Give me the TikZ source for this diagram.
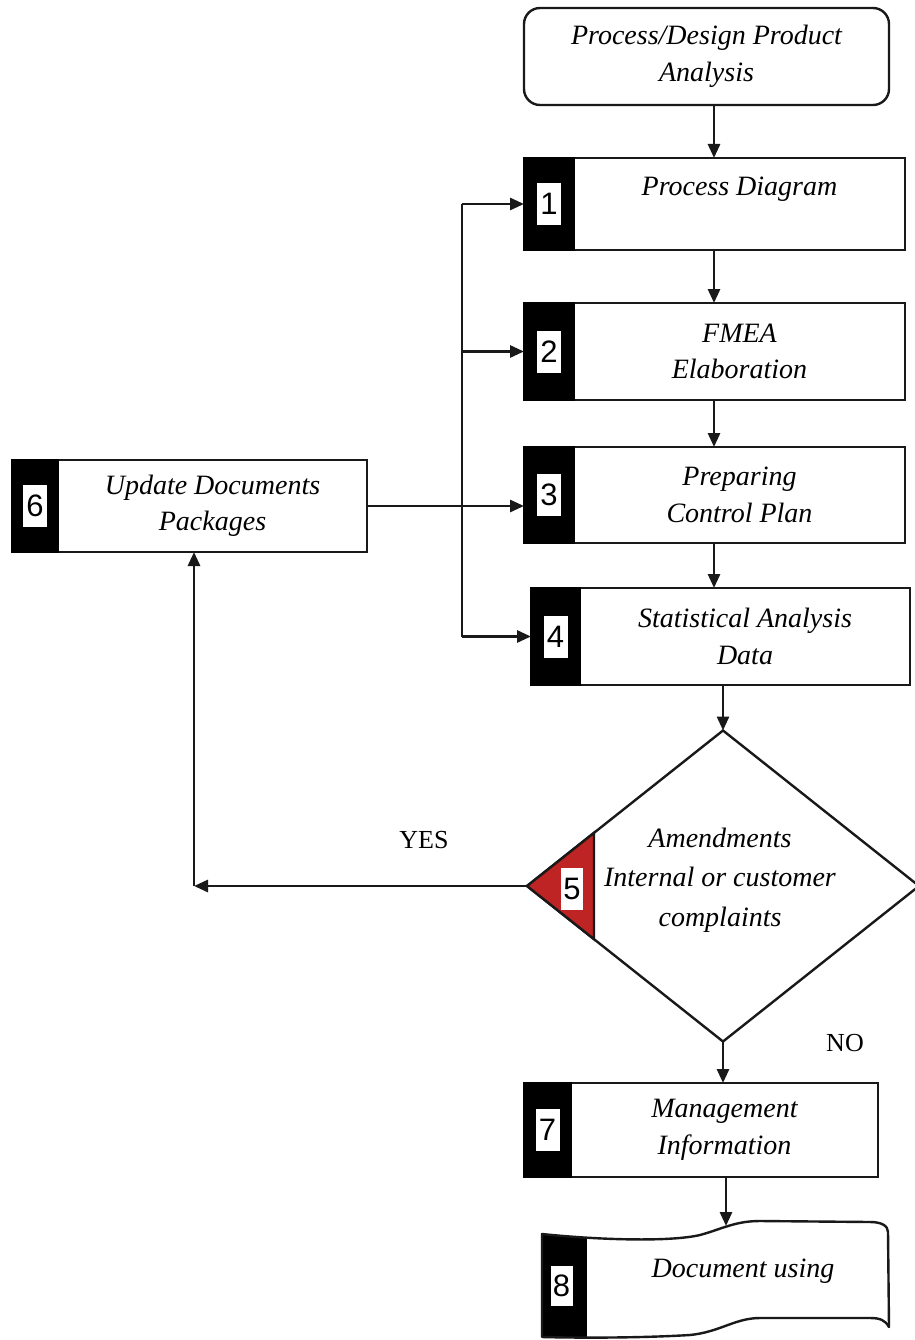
\documentclass[tikz,border=0pt]{standalone}
\usepackage{fontspec}
\setmainfont{Liberation Serif}
\newfontfamily\digitfont{Liberation Sans}
\usetikzlibrary{arrows.meta,shapes.geometric,calc}
\definecolor{tabred}{RGB}{190,36,36}
\definecolor{ink}{RGB}{25,25,25}

\begin{document}
\begin{tikzpicture}[x=1pt,y=-1pt,
  every node/.style={inner sep=0pt, outer sep=0pt},
  stepbox/.style={draw=ink, line width=2.4pt, fill=white, align=center,
    font=\fontsize{28}{36.5}\selectfont\itshape},
  steptext/.style={align=center, font=\fontsize{28}{39.5}\selectfont\itshape},
  tabbox/.style={draw=black, fill=black, line width=2.4pt},
  numbox/.style={fill=white, minimum width=24pt, minimum height=42pt,
    font=\fontsize{31}{32}\selectfont\digitfont},
  lbl/.style={font=\fontsize{26}{28}\selectfont},
  conn/.style={draw=ink, line width=2.8pt},
  arr/.style={conn, -{Triangle[length=14pt,width=12pt]}}]

\useasboundingbox[fill=white] (0,0) rectangle (914,1340);

% start box
\node[stepbox, rounded corners=16pt, minimum width=365pt, minimum height=97pt]
  (start) at (706.5,56.5) {Process/Design Product\\Analysis};

% numbered steps: white box, black tab on the left, number in the tab
\node[stepbox, minimum width=331pt, minimum height=92pt] (b1) at (739.5,204) {Process Diagram\\\mbox{}};
\node[tabbox, minimum width=50pt, minimum height=92pt, anchor=north east] (t1) at (b1.north west) {};
\node[numbox] (n1) at (t1) {1};

\node[stepbox, minimum width=331pt, minimum height=97pt] (b2) at (739.5,351.5) {FMEA\\Elaboration};
\node[tabbox, minimum width=50pt, minimum height=97pt, anchor=north east] (t2) at (b2.north west) {};
\node[numbox] (n2) at (t2) {2};

\node[stepbox, minimum width=331pt, minimum height=96pt] (b3) at (739.5,495) {Preparing\\Control Plan};
\node[tabbox, minimum width=50pt, minimum height=96pt, anchor=north east] (t3) at (b3.north west) {};
\node[numbox] (n3) at (t3) {3};

\node[stepbox, minimum width=330pt, minimum height=97pt] (b4) at (745,636.5) {Statistical Analysis\\Data};
\node[tabbox, minimum width=49pt, minimum height=97pt, anchor=north east] (t4) at (b4.north west) {};
\node[numbox] (n4) at (t4) {4};

\node[stepbox, minimum width=309pt, minimum height=92pt] (b6) at (212.5,506) {Update Documents\\Packages};
\node[tabbox, minimum width=46pt, minimum height=92pt, anchor=north east] (t6) at (b6.north west) {};
\node[numbox] (n6) at (t6) {6};

\node[stepbox, minimum width=307pt, minimum height=94pt] (b7) at (724.5,1130) {Management\\Information};
\node[tabbox, minimum width=47pt, minimum height=94pt, anchor=north east] (t7) at (b7.north west) {};
\node[numbox] (n7) at (t7) {7};

% decision
\node[diamond, draw=ink, line width=2.4pt, fill=white, aspect=1.26,
  minimum width=392pt, minimum height=311pt] (d5) at (723,886) {};
\filldraw[fill=tabred, draw=ink, line width=2.4pt]
  (d5.west) -- ($(d5.west)!0.342!(d5.north)$) -- ($(d5.west)!0.342!(d5.south)$) -- cycle;
\node[numbox, minimum width=22pt] (n5) at (572,889) {5};
\node[steptext] (d5txt) at (720,880) {Amendments\\Internal or customer\\complaints};

% document step
\def\docpath{(542,1234) .. controls (600,1240) and (670,1242) .. (700,1235)
  .. controls (722,1229) and (735,1221) .. (760,1221) -- (870,1222)
  .. controls (882,1222) and (888,1226) .. (888,1232) -- (889,1327)
  .. controls (885,1320) and (880,1318) .. (870,1318) -- (760,1318)
  .. controls (735,1318) and (720,1332) .. (690,1335)
  .. controls (640,1338) and (580,1338) .. (542,1337) -- cycle}
\fill[white] \docpath;
\begin{scope}
  \clip \docpath;
  \fill[black] (542,1200) rectangle (587,1345);
\end{scope}
\draw[ink, line width=2.4pt, line join=round] \docpath;
\node[steptext] (b8txt) at (743,1271) {Document using};
\node[numbox, minimum width=22pt, minimum height=40pt] (n8) at (561.5,1286) {8};
\coordinate (b8top) at (726,1226);

% main flow
\coordinate (cx) at (714,0);
\draw[arr] (start.south -| cx) -- (b1.north -| cx);
\draw[arr] (b1.south -| cx) -- (b2.north -| cx);
\draw[arr] (b2.south -| cx) -- (b3.north -| cx);
\draw[arr] (b3.south -| cx) -- (b4.north -| cx);
\draw[arr] (b4.south -| d5.north) -- (d5.north);
\draw[arr] (d5.south) -- (b7.north -| d5.south);
\draw[arr] (b7.south -| b8top) -- (b8top);

% feedback bus into steps 1-4
\coordinate (bus) at (462,0);
\draw[conn] (t1.west -| bus) -- (t4.west -| bus);
\draw[arr] (t1.west -| bus) -- (t1.west);
\draw[arr] (t2.west -| bus) -- (t2.west);
\draw[arr] (t4.west -| bus) -- (t4.west);
\draw[arr] (b6.east) -- (b6.east -| t3.west);

% YES branch back to step 6
\coordinate (yc) at (194,0);
\draw[arr] (d5.west) -- (d5.west -| yc);
\draw[arr] (d5.west -| yc) -- (b6.south -| yc);

\node[lbl] (yes) at (424,840) {YES};
\node[lbl] (no) at (845,1043) {NO};
\end{tikzpicture}
\end{document}
